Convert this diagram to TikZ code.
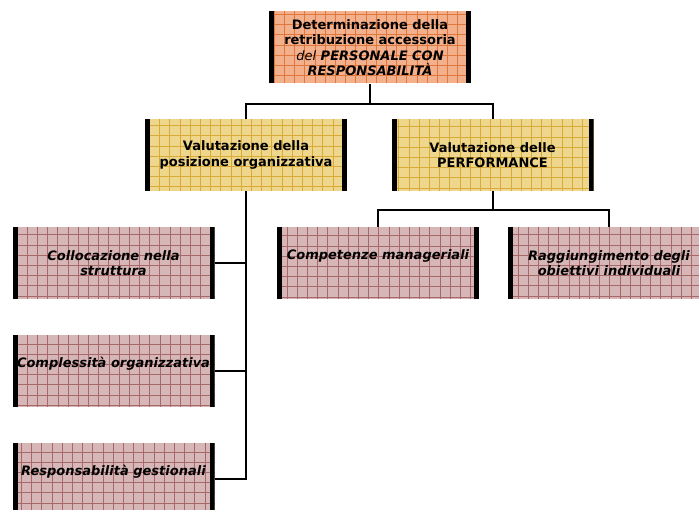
\documentclass[tikz,border=0pt]{standalone}
\usepackage{fontspec}
\setmainfont{DejaVu Sans}
% box colours
\definecolor{boxOrange}{RGB}{242,176,140}
\definecolor{gridOrange}{RGB}{224,120,62}
\definecolor{boxYellow}{RGB}{238,214,140}
\definecolor{gridYellow}{RGB}{216,170,56}
\definecolor{boxMauve}{RGB}{214,182,182}
\definecolor{gridMauve}{RGB}{166,104,104}
\tikzset{
  orgbox/.style={minimum width=202pt, minimum height=72pt, inner sep=2pt,
    align=center, font=\bfseries\fontsize{13}{15.5}\selectfont, fill=box#1,
    path picture={
      \draw[grid#1, line width=0.6pt] (path picture bounding box.south west)
        grid[step=10.2pt] (path picture bounding box.north east);
      \fill[black] (path picture bounding box.south west) rectangle ([xshift=5pt]path picture bounding box.north west);
      \fill[black] ([xshift=-5pt]path picture bounding box.south east) rectangle (path picture bounding box.north east);
    }},
  subbox/.style={orgbox=Mauve, font=\bfseries\itshape\fontsize{13}{15.5}\selectfont},
  link/.style={draw=black, line width=2pt}
}
\begin{document}
\begin{tikzpicture}[x=1pt, y=1pt]
\useasboundingbox (0,0) rectangle (699,509);
% upper levels
\node[orgbox=Orange] (top) at (370,461.5) {Determinazione della\\retribuzione accessoria\\{\mdseries\itshape del} \textit{PERSONALE CON}\\\textit{RESPONSABILITÀ}};
\node[orgbox=Yellow] (pos) at (246,354) {Valutazione della\\posizione organizzativa};
\node[orgbox=Yellow] (perf) at (492.5,354) {Valutazione delle\\PERFORMANCE};
% performance branch
\node[subbox] (comp) at (378,246) {Competenze manageriali\\[1.5pt]\mbox{}};
\node[subbox] (obj) at (609,246) {Raggiungimento degli\\obiettivi individuali};
% position branch
\node[subbox] (coll) at (113.5,246) {Collocazione nella\\struttura};
\node[subbox] (cplx) at (113.5,138) {Complessità organizzativa\\[1.5pt]\mbox{}};
\node[subbox] (resp) at (113.5,30) {Responsabilità gestionali\\[1.5pt]\mbox{}};
% connectors
\coordinate (bus1) at (0,405);
\coordinate (bus2) at (0,299);
\draw[link] (top.south) -- (top.south |- bus1) -| (pos.north);
\draw[link] (top.south |- bus1) -| (perf.north);
\draw[link] (perf.south) -- (perf.south |- bus2) -| (comp.north);
\draw[link] (perf.south |- bus2) -| (obj.north);
\draw[link] (pos.south) |- (resp.east);
\draw[link] (coll.east) -| (pos.south);
\draw[link] (cplx.east) -| (pos.south);
\end{tikzpicture}
\end{document}
